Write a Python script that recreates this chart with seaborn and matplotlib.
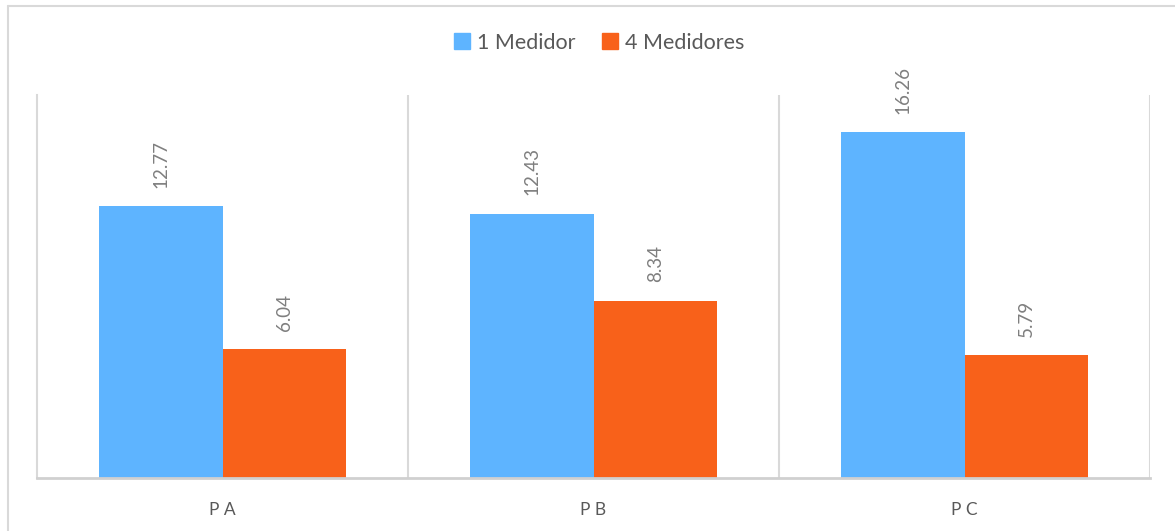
import matplotlib
matplotlib.use("Agg")
import matplotlib.pyplot as plt
import seaborn as sns
import pandas as pd
from matplotlib.lines import Line2D

# Values per point and configuration
categorias = ["P A", "P B", "P C"]
series = ["1 Medidor", "4 Medidores"]
un_medidor = [12.77, 12.43, 16.26]
cuatro_medidores = [6.04, 8.34, 5.79]

colores = ["#5EB4FF", "#F8611A"]
gris_texto = "#595959"
gris_linea = "#D9D9D9"

df = pd.DataFrame({
    "Punto": categorias * 2,
    "Serie": [series[0]] * 3 + [series[1]] * 3,
    "Valor": un_medidor + cuatro_medidores,
})

sns.set_theme(style="white")
plt.rcParams["font.family"] = ["Lato", "DejaVu Sans"]

fig = plt.figure(figsize=(11.75, 5.31), dpi=100)
ax = fig.add_axes([37 / 1175, 1 - 478 / 531, (1150 - 37) / 1175, (478 - 95) / 531])

sns.barplot(data=df, x="Punto", y="Valor", hue="Serie", palette=colores,
            width=0.666, saturation=1, ax=ax, legend=False, linewidth=0)

ax.set_xlim(-0.5, 2.5)
ax.set_ylim(0, 18)
ax.set_xlabel("")
ax.set_ylabel("")
ax.set_yticks([])
ax.tick_params(axis="x", length=0, labelsize=12.5, labelcolor=gris_texto, pad=17)

for s in ["top", "right"]:
    ax.spines[s].set_visible(False)
ax.spines["left"].set_color(gris_linea)
ax.spines["left"].set_linewidth(1.5)
ax.spines["bottom"].set_color("#D0D0D0")
ax.spines["bottom"].set_linewidth(2)

# Separators between points
for xv in [0.5, 1.5, 2.5]:
    ax.axvline(xv, color=gris_linea, lw=1.5, zorder=0)

# Value labels, rotated above each bar
for cont in ax.containers:
    ax.bar_label(cont, labels=[f"{v:.2f}" for v in cont.datavalues],
                 rotation=90, padding=13, fontsize=13.5, color="#7F7F7F")

handles = [Line2D([], [], marker="s", linestyle="none", markersize=11,
                  markerfacecolor=c, markeredgecolor=c) for c in colores]
fig.legend(handles, series, loc="center", bbox_to_anchor=(0.510, 1 - 43 / 531),
           ncol=2, frameon=False, fontsize=15.5, labelcolor=gris_texto,
           handletextpad=0.3, columnspacing=1.2, handlelength=0.8)

# Chart frame
fig.add_artist(Line2D([8 / 1175, 1], [1 - 6 / 531, 1 - 6 / 531],
                      transform=fig.transFigure, color=gris_linea, lw=1.5))
fig.add_artist(Line2D([8 / 1175, 8 / 1175], [0, 1 - 6 / 531],
                      transform=fig.transFigure, color=gris_linea, lw=1.5))

fig.savefig("out.png", dpi=100, facecolor="white")
